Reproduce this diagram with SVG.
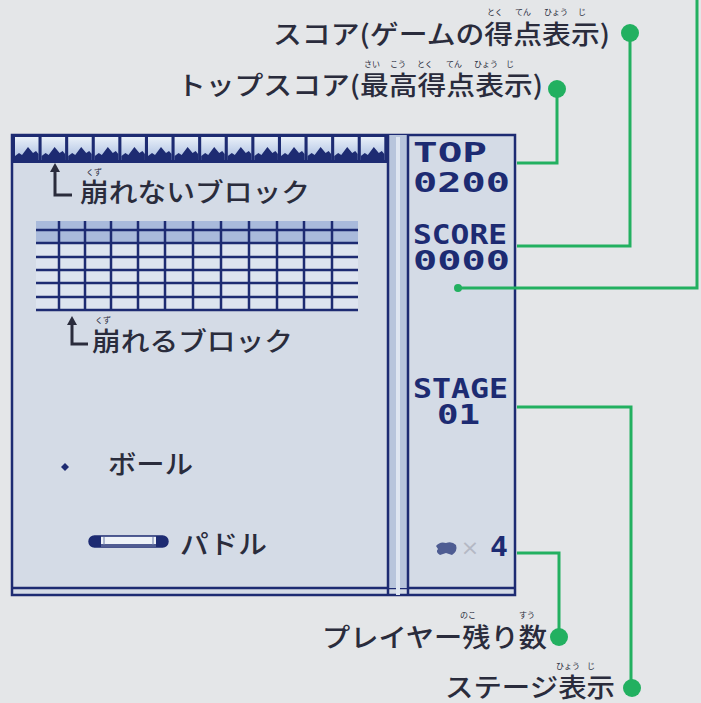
<svg xmlns="http://www.w3.org/2000/svg" width="701" height="703" viewBox="0 0 701 703">
<style>
.lbl{font-family:"Noto Sans CJK JP","Noto Sans CJK SC",sans-serif;font-size:26px;font-weight:500;fill:#2a2c3c;}
.rb{font-family:"Noto Sans CJK JP","Noto Sans CJK SC",sans-serif;font-size:8px;fill:#2a2c3c;text-anchor:middle;}
.px{font-family:"DejaVu Sans Mono","Liberation Mono",monospace;font-weight:bold;font-size:27px;fill:#1d2b72;}
.nv{stroke:#1d2b72;fill:none;}
.gl{stroke:#22b060;stroke-width:3;fill:none;}
.gd{fill:#22b060;}
.arr{stroke:#2a2c3c;stroke-width:3;fill:none;}
</style>
<defs>
<linearGradient id="bg" x1="0" y1="0" x2="0" y2="1">
<stop offset="0" stop-color="#e9f0f9"/><stop offset="1" stop-color="#a9bde0"/>
</linearGradient>
<g id="blk">
<rect x="0" y="0" width="23.5" height="23" fill="url(#bg)"/>
<path d="M0,23 L0,19 L4,16 L7,18 L13,10 L18,16 L21,14 L23.5,17 L23.5,23 Z" fill="#1d2b72"/>
</g>
<path id="ahead" d="M0,0 L-5,9 L5,9 Z" fill="#2a2c3c"/>
</defs>
<rect x="0" y="0" width="701" height="703" fill="#e4e6e8"/>

<g id="screen">
<rect x="12" y="135" width="503" height="460" fill="#d4dbe6" stroke="#1d2b72" stroke-width="2.5"/>
<line x1="12" y1="588" x2="515" y2="588" class="nv" stroke-width="2.5"/>
<rect x="388" y="135" width="20" height="453" fill="#b8c5dc"/>
<line x1="398" y1="137" x2="398" y2="595" stroke="#dfe6f1" stroke-width="4"/>
<line x1="388" y1="135" x2="388" y2="595" class="nv" stroke-width="2.5"/>
<line x1="408" y1="135" x2="408" y2="595" class="nv" stroke-width="2.5"/>
</g>

<g id="wall-blocks">
<rect x="12" y="135" width="377" height="28" fill="#1d2b72"/>
<use href="#blk" x="15" y="137"/><use href="#blk" x="41.6" y="137"/><use href="#blk" x="68.2" y="137"/>
<use href="#blk" x="94.8" y="137"/><use href="#blk" x="121.4" y="137"/><use href="#blk" x="148" y="137"/>
<use href="#blk" x="174.6" y="137"/><use href="#blk" x="201.2" y="137"/><use href="#blk" x="227.8" y="137"/>
<use href="#blk" x="254.4" y="137"/><use href="#blk" x="281" y="137"/><use href="#blk" x="307.6" y="137"/>
<use href="#blk" x="334.2" y="137"/><use href="#blk" x="360.8" y="137"/>
</g>

<g id="breakable-blocks">
<rect x="36" y="221" width="322" height="22" fill="#a9badb"/>
<rect x="36" y="243" width="322" height="67" fill="#dde4ef"/>
<g class="nv" stroke-width="2.5">
<line x1="36" y1="230" x2="358" y2="230"/><line x1="36" y1="243" x2="358" y2="243"/>
<line x1="36" y1="257" x2="358" y2="257"/><line x1="36" y1="270" x2="358" y2="270"/>
<line x1="36" y1="283" x2="358" y2="283"/><line x1="36" y1="297" x2="358" y2="297"/>
<line x1="36" y1="310" x2="358" y2="310"/>
<line x1="59" y1="221" x2="59" y2="310"/><line x1="85" y1="221" x2="85" y2="310"/>
<line x1="111" y1="221" x2="111" y2="310"/><line x1="138" y1="221" x2="138" y2="310"/>
<line x1="165" y1="221" x2="165" y2="310"/><line x1="193" y1="221" x2="193" y2="310"/>
<line x1="221" y1="221" x2="221" y2="310"/><line x1="249" y1="221" x2="249" y2="310"/>
<line x1="277" y1="221" x2="277" y2="310"/><line x1="304" y1="221" x2="304" y2="310"/>
<line x1="332" y1="221" x2="332" y2="310"/>
</g>
</g>

<g id="ball">
<path d="M65,463 L69,467 L65,471 L61,467 Z" fill="#1d2b72"/>
</g>
<g id="paddle">
<rect x="89" y="536" width="79" height="11" rx="5.5" fill="#eef2f8" stroke="#1d2b72" stroke-width="1.5"/>
<path d="M94.5,536 L101,536 L101,547 L94.5,547 A5.5,5.5 0 0 1 94.5,536 Z" fill="#1d2b72"/>
<path d="M156,536 L162.5,536 A5.5,5.5 0 0 1 162.5,547 L156,547 Z" fill="#1d2b72"/>
<line x1="101" y1="545" x2="156" y2="545" stroke="#1d2b72" stroke-width="1.5"/>
<line x1="104" y1="537" x2="104" y2="545" stroke="#6a7aa8" stroke-width="1"/>
<line x1="153" y1="537" x2="153" y2="545" stroke="#6a7aa8" stroke-width="1"/>
</g>

<g id="panel-text">
<text class="px" x="413" y="162" textLength="74" lengthAdjust="spacingAndGlyphs">TOP</text>
<text class="px" x="413" y="192" textLength="97" lengthAdjust="spacingAndGlyphs">0200</text>
<text class="px" x="413" y="244" textLength="94" lengthAdjust="spacingAndGlyphs">SCORE</text>
<text class="px" x="413" y="270" textLength="97" lengthAdjust="spacingAndGlyphs">0000</text>
<text class="px" x="413" y="398" textLength="95" lengthAdjust="spacingAndGlyphs">STAGE</text>
<text class="px" x="437" y="424" textLength="43" lengthAdjust="spacingAndGlyphs">01</text>
</g>
<g id="lives">
<path d="M436,546 Q440,541 446,543 Q452,541 456,545 Q458,551 452,555 L446,553 L440,555 Q435,552 438,549 Z" fill="#4e5c92"/>
<text x="470" y="555" font-family="DejaVu Sans,sans-serif" font-size="22" fill="#b4b8c4" text-anchor="middle">×</text>
<text class="px" x="490" y="556" font-size="20" textLength="18" lengthAdjust="spacingAndGlyphs">4</text>
</g>

<g id="connectors">
<polyline class="gl" points="630,33 630,246 517,246"/>
<polyline class="gl" points="557,89 557,163 517,163"/>
<polyline class="gl" points="458,288 697,288 697,0"/>
<polyline class="gl" points="517,407 631,407 631,688"/>
<polyline class="gl" points="517,553 559,553 559,637"/>
<path class="arr" d="M55,170 L55,195 L72,195"/>
<use href="#ahead" x="55" y="163"/>
<path class="arr" d="M72,323 L72,344 L88,344"/>
<use href="#ahead" x="72" y="316"/>
</g>

<g id="label-score">
<circle class="gd" cx="630" cy="33" r="9"/>
<text class="lbl" x="273" y="44" textLength="337" lengthAdjust="spacingAndGlyphs">スコア(ゲームの得点表示)</text>
<text class="rb" x="495" y="15">とく</text><text class="rb" x="523" y="15">てん</text>
<text class="rb" x="556" y="15">ひょう</text><text class="rb" x="582" y="15">じ</text>
</g>
<g id="label-top">
<circle class="gd" cx="557" cy="89" r="9"/>
<text class="lbl" x="177" y="95" textLength="366" lengthAdjust="spacingAndGlyphs">トップスコア(最高得点表示)</text>
<text class="rb" x="372" y="67">さい</text><text class="rb" x="398" y="67">こう</text>
<text class="rb" x="425" y="67">とく</text><text class="rb" x="454" y="67">てん</text>
<text class="rb" x="486" y="67">ひょう</text><text class="rb" x="510" y="67">じ</text>
</g>
<g id="label-wall">
<text class="lbl" x="80" y="202" textLength="230" lengthAdjust="spacingAndGlyphs">崩れないブロック</text>
<text class="rb" x="94" y="175">くず</text>
</g>
<g id="label-bricks">
<text class="lbl" x="92" y="351" textLength="201" lengthAdjust="spacingAndGlyphs">崩れるブロック</text>
<text class="rb" x="103" y="323">くず</text>
</g>
<g id="label-ball">
<text class="lbl" x="108" y="474" textLength="85" lengthAdjust="spacingAndGlyphs">ボール</text>
</g>
<g id="label-paddle">
<text class="lbl" x="180" y="554" textLength="87" lengthAdjust="spacingAndGlyphs">パドル</text>
</g>
<g id="small-dot">
<circle class="gd" cx="458" cy="288" r="4"/>
</g>
<g id="label-lives">
<circle class="gd" cx="559" cy="637" r="9"/>
<text class="lbl" x="322" y="647" textLength="225" lengthAdjust="spacingAndGlyphs">プレイヤー残り数</text>
<text class="rb" x="468" y="618">のこ</text><text class="rb" x="527" y="618">すう</text>
</g>
<g id="label-stage">
<circle class="gd" cx="632" cy="688" r="9"/>
<text class="lbl" x="445" y="697" textLength="170" lengthAdjust="spacingAndGlyphs">ステージ表示</text>
<text class="rb" x="568" y="669">ひょう</text><text class="rb" x="591" y="669">じ</text>
</g>
</svg>
